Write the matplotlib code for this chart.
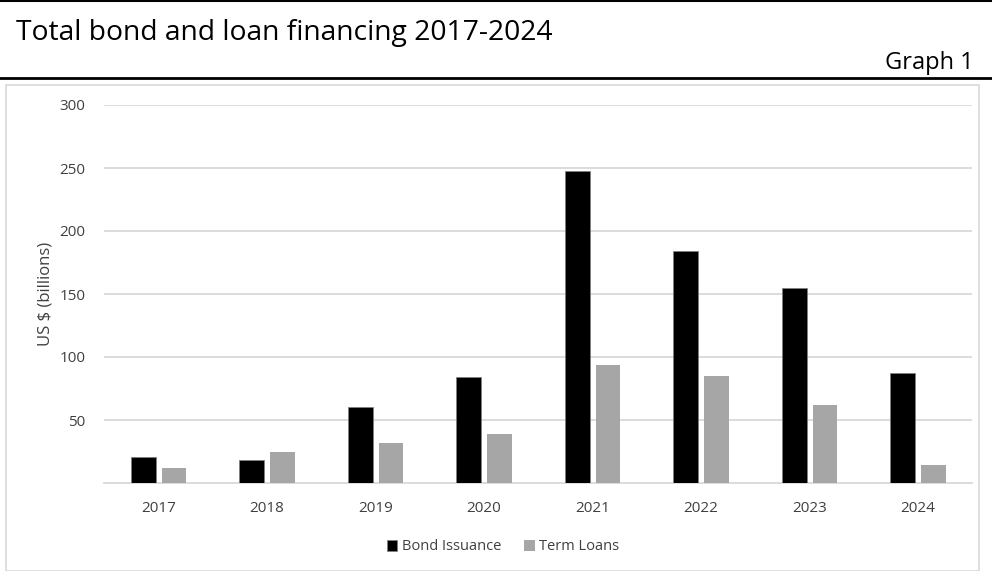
import matplotlib
matplotlib.use("Agg")
import matplotlib.pyplot as plt
from matplotlib.patches import Rectangle
from matplotlib.lines import Line2D
import numpy as np

years = ["2017", "2018", "2019", "2020", "2021", "2022", "2023", "2024"]
bond_issuance = [20.5, 18, 60, 84, 248, 184, 154.5, 87]
term_loans = [12, 25, 32, 39, 93.5, 85, 62, 14.5]
yticks = [50, 100, 150, 200, 250, 300]

plt.rcParams['font.family'] = ['Open Sans', 'DejaVu Sans']

W, H = 992, 571
fig = plt.figure(figsize=(W / 100, H / 100), dpi=100)

def fx(px):
    return px / W

def fy(py):
    return 1 - py / H

# decorative lines and box
fig.add_artist(Line2D([0, 1], [fy(1), fy(1)], color='black', lw=1.5, transform=fig.transFigure))
fig.add_artist(Line2D([0, 1], [fy(78), fy(78)], color='black', lw=2.0, transform=fig.transFigure))
fig.add_artist(Rectangle((fx(6), fy(571)), fx(979) - fx(6), fy(85) - fy(571),
                         transform=fig.transFigure, fill=False, edgecolor='#d9d9d9', lw=1.2))

fig.text(fx(16), fy(40), "Total bond and loan financing 2017-2024", fontsize=20.3,
         ha='left', va='baseline', color='black')
fig.text(fx(974), fy(69), "Graph 1", fontsize=17, ha='right', va='baseline', color='black')

ax = fig.add_axes([fx(104), fy(483), fx(972) - fx(104), fy(105) - fy(483)])
x = np.arange(len(years))
w = 0.23
ax.bar(x - 0.138, bond_issuance, width=w, color='black', edgecolor='#808080', linewidth=0.5,
       label='Bond Issuance', zorder=3)
ax.bar(x + 0.145, term_loans, width=w, color='#a6a6a6', label='Term Loans', zorder=3)

ax.set_xlim(-0.5, len(years) - 0.5)
ax.set_ylim(0, 300)
ax.set_yticks(yticks)
ax.set_xticks(x)
ax.set_xticklabels(years)
ax.grid(axis='y', color='#d9d9d9', lw=1.3, zorder=0)
for s in ['top', 'right', 'left']:
    ax.spines[s].set_visible(False)
ax.spines['bottom'].set_color('#d9d9d9')
ax.spines['bottom'].set_linewidth(1.3)
ax.tick_params(axis='both', length=0, labelsize=11, colors='#404040')
ax.tick_params(axis='y', pad=13.5)
ax.tick_params(axis='x', pad=13)
ax.set_ylabel("US $ (billions)", fontsize=12, color='#404040')
ax.yaxis.set_label_coords(-(104 - 46) / (972 - 104), 0.5)
ax.yaxis.label.set_va('center')

leg = fig.legend(loc='center', bbox_to_anchor=(fx(503), fy(547)), ncol=2, frameon=False,
                 fontsize=10.5, handlelength=0.7, handleheight=0.7, handletextpad=0.3,
                 columnspacing=1.6)
for t in leg.get_texts():
    t.set_color('#404040')

fig.savefig("out.png", dpi=100)
